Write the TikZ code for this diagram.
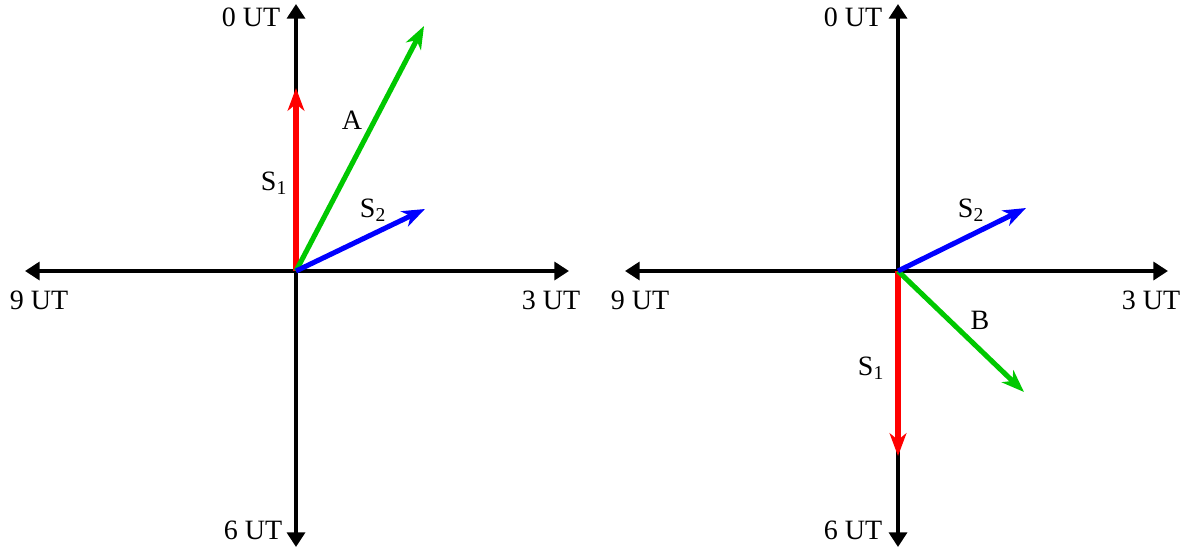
\documentclass[tikz,border=0pt]{standalone}
\usepackage{fontspec}
\setmainfont{Liberation Serif}
\usetikzlibrary{arrows.meta}
\tikzset{
  ax/.style  = {-{Triangle[length=11pt, width=13.5pt]}, line width=2.6pt, draw=black},
  vec/.style = {-{Stealth[length=17pt, width=12.5pt, inset=5pt]}, line width=3.8pt},
  lab/.style = {font=\fontsize{21}{25}\selectfont, inner sep=0pt},
}
\definecolor{vred}{RGB}{255,0,0}
\definecolor{vgreen}{RGB}{0,200,0}
\definecolor{vblue}{RGB}{0,0,255}

\begin{document}
\begin{tikzpicture}[x=0.75pt, y=-0.75pt]
\useasboundingbox (0,0) rectangle (1192,550);

% left dial
\coordinate (o1) at (296,271);
\coordinate (n1) at (296,4);
\coordinate (s1) at (296,547);
\coordinate (w1) at (25,271);
\coordinate (e1) at (569,271);
\draw[ax] (o1) -- (n1);
\draw[ax] (o1) -- (s1);
\draw[ax] (o1) -- (w1);
\draw[ax] (o1) -- (e1);
\coordinate (sa1) at (296,88);
\coordinate (ga) at (424,26);
\coordinate (sb1) at (425,209);
\draw[vec, vred] (o1) -- (sa1);
\draw[vec, vgreen] (o1) -- (ga);
\draw[vec, vblue] (o1) -- (sb1);
\node[lab] (t0a) at (251,17) {0 UT};
\node[lab] (t9a) at (39,300) {9 UT};
\node[lab] (t3a) at (551,300) {3 UT};
\node[lab] (t6a) at (253,530) {6 UT};
\node[lab] (la1) at (274,183) {S\textsubscript{1}};
\node[lab] (lb1) at (373,210) {S\textsubscript{2}};
\node[lab] (lA) at (352,120) {A};

% right dial
\coordinate (o2) at (898,271);
\coordinate (n2) at (898,4);
\coordinate (s2) at (898,547);
\coordinate (w2) at (625,271);
\coordinate (e2) at (1168,271);
\draw[ax] (o2) -- (n2);
\draw[ax] (o2) -- (s2);
\draw[ax] (o2) -- (w2);
\draw[ax] (o2) -- (e2);
\coordinate (sa2) at (898,456);
\coordinate (gb) at (1024,392);
\coordinate (sb2) at (1026,208);
\draw[vec, vred] (o2) -- (sa2);
\draw[vec, vgreen] (o2) -- (gb);
\draw[vec, vblue] (o2) -- (sb2);
\node[lab] (t0b) at (853,17) {0 UT};
\node[lab] (t9b) at (640,300) {9 UT};
\node[lab] (t3b) at (1151,300) {3 UT};
\node[lab] (t6b) at (853,530) {6 UT};
\node[lab] (la2) at (871,368) {S\textsubscript{1}};
\node[lab] (lb2) at (971,210) {S\textsubscript{2}};
\node[lab] (lB) at (980,320) {B};
\end{tikzpicture}
\end{document}
